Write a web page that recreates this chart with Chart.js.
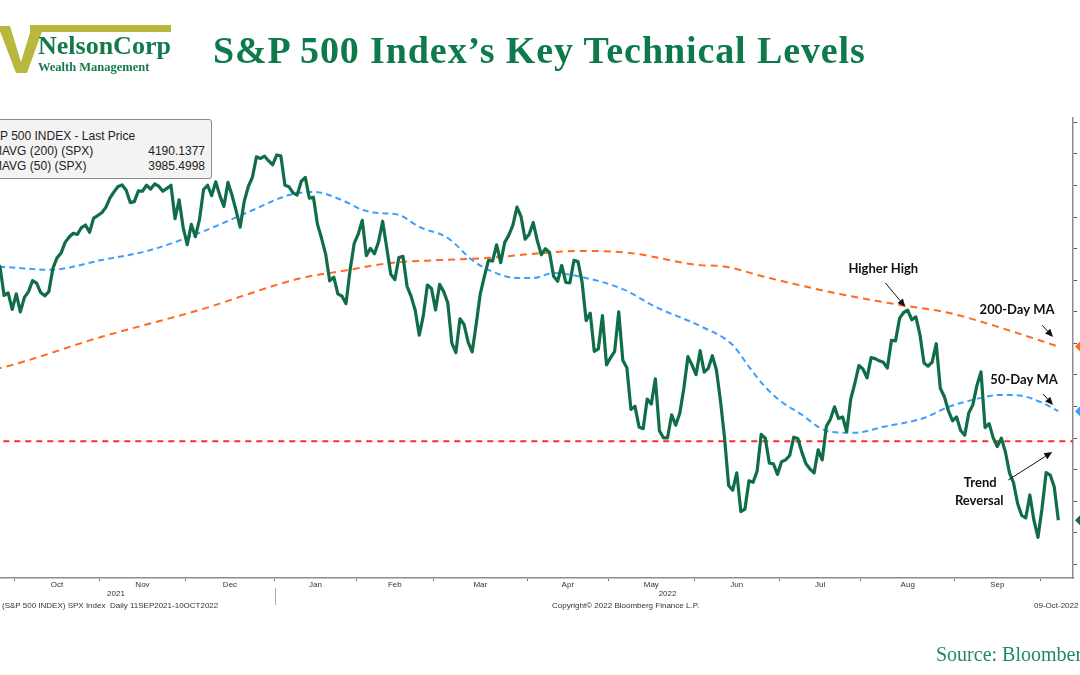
<!DOCTYPE html>
<html>
<head>
<meta charset="utf-8">
<script src="https://cdn.jsdelivr.net/npm/chart.js@4.4.1/dist/chart.umd.min.js"></script>
<style>
html,body{margin:0;padding:0;background:#fff;}
#wrap{position:relative;width:1080px;height:675px;overflow:hidden;background:#fff;}
#c{position:absolute;left:0;top:0;}
.serif{font-family:"Liberation Serif","Times New Roman",serif;font-weight:bold;white-space:nowrap;position:absolute;}
#title{left:213px;top:31px;font-size:38px;line-height:38px;letter-spacing:0.9px;color:#0e7a4c;}
#nc{left:38px;top:33px;font-size:26px;line-height:26px;color:#157a4b;}
#wm{left:38px;top:61px;font-size:12.5px;line-height:13px;color:#157a4b;}
#logo{position:absolute;left:0;top:0;}
#legend{position:absolute;left:-30px;top:119px;width:240px;height:58px;border:1px solid #8a8a8a;border-radius:3px;background:#f3f3f3;font-family:"Liberation Sans",Arial,sans-serif;font-size:12px;color:#222;}
.lr{position:absolute;left:13px;white-space:nowrap;}
.lv{position:absolute;right:6px;white-space:nowrap;}
.small{position:absolute;font-family:"Liberation Sans",Arial,sans-serif;font-size:8px;line-height:9px;color:#333;white-space:nowrap;}
#src{position:absolute;left:936px;top:643px;font-family:"Liberation Serif","Times New Roman",serif;font-size:20px;color:#1f8a5a;white-space:nowrap;}
</style>
</head>
<body>
<div id="wrap">
<canvas id="c" width="1080" height="675"></canvas>
<svg id="logo" width="180" height="80" viewBox="0 0 180 80">
  <rect x="30" y="25" width="141" height="7" fill="#b9b83e"/>
  <polygon points="-2,26 10,26 21,62 32,26 44,26 27,73 16,73" fill="#b9b83e"/>
</svg>
<div id="nc" class="serif">NelsonCorp</div>
<div id="wm" class="serif">Wealth Management</div>
<div id="title" class="serif">S&amp;P 500 Index’s Key Technical Levels</div>
<div id="legend">
  <div class="lr" style="top:9px">S&amp;P 500 INDEX - Last Price</div>
  <div class="lr" style="top:24px">SMAVG (200) (SPX)</div>
  <div class="lv" style="top:24px" id="lv200"></div>
  <div class="lr" style="top:39px">SMAVG (50) (SPX)</div>
  <div class="lv" style="top:39px" id="lv50"></div>
</div>
<div class="small" style="left:2px;top:601px">(S&amp;P 500 INDEX) SPX Index&nbsp; Daily 11SEP2021-10OCT2022</div>
<div class="small" style="left:552px;top:601px">Copyright© 2022 Bloomberg Finance L.P.</div>
<div class="small" style="left:1034px;top:601px">09-Oct-2022</div>
<div id="src">Source: Bloomberg</div>
</div>
<script>
// ---------------- DATA ----------------
// S&P 500 daily closes, trading-day index 0 = 13-Sep-2021 ... 270 = 07-Oct-2022
const price = [
 4469,4443,4481,4474,4433,4358,4355,4396,4449,4455,4443,4352,4360,4308,
 4357,4300,4346,4364,4399,4391,4361,4351,4364,4438,4471,4486,4520,4537,4549,4545,4567,4575,4552,4597,4605,
 4614,4631,4660,4680,4697,4702,4685,4646,4649,4683,4682,4701,4689,4705,4698,4682,4691,4701,4595,4655,4567,
 4513,4577,4538,4592,4687,4701,4668,4712,4669,4634,4710,4669,4621,4568,4650,4697,4726,4791,4786,4793,4778,4766,
 4797,4794,4701,4696,4677,4670,4713,4726,4660,4663,4577,4533,4483,4398,4410,4357,4350,4326,4432,4516,
 4546,4590,4478,4501,4484,4522,4587,4504,4419,4402,4472,4476,4381,4349,4305,4226,4288,4385,4374,
 4306,4387,4364,4329,4201,4171,4278,4260,4204,4173,4262,4358,4412,4463,4461,4512,4456,4520,4543,4575,4632,4602,4530,
 4546,4583,4525,4481,4500,4488,4413,4397,4447,4393,4392,4463,4459,4394,4272,4296,4175,4183,4288,4132,
 4155,4175,4300,4147,4123,3991,4001,3935,3930,4024,4008,4088,3923,3901,3901,3974,3941,3979,4058,4158,4132,
 4101,4177,4109,4121,4161,4116,4018,3901,3750,3735,3790,3667,3675,3765,3760,3796,3912,3900,3821,3819,3785,
 3825,3831,3845,3903,3899,3855,3819,3802,3790,3863,3831,3937,3960,3999,3962,3967,3921,4024,4073,4130,
 4119,4091,4155,4152,4145,4140,4122,4210,4208,4280,4298,4305,4275,4284,4228,4138,4128,4141,4199,4058,4031,3986,3955,
 3967,3924,3909,3980,4006,4067,4110,3933,3946,3901,3873,3900,3856,3790,3758,3693,3655,3647,3720,3640,3586,
 3678,3791,3783,3745,3640
];
// 200-day moving average at these trading-day indices
const ma200Idx = [0,10,35,59,84,94,106,118,130,143,153,165,182,187,199,215,231,243,256,270];
const ma200Val = [4100,4122,4221,4306,4407,4429,4455,4464,4471,4486,4493,4486,4448,4445,4407,4360,4322,4297,4249,4190.14];
// 50-day moving average
const ma50Idx = [0,10,22,35,47,59,71,81,87,94,99,103,108,113,120,126,130,137,141,146,153,163,171,182,190,194,198,202,207,211,214,220,227,237,243,248,256,261,266,270];
const ma50Val = [4440,4442,4433,4464,4496,4550,4616,4670,4680,4654,4623,4613,4607,4569,4534,4464,4433,4407,4407,4423,4410,4372,4316,4255,4195,4126,4062,4015,3974,3936,3920,3917,3936,3964,3999,4018,4037,4034,4012,3985.50];
// horizontal "trend reversal" level
const levelIdx = [0, 280];
const levelVal = [3890, 3890];
// x axis: first session of each month (Oct-2021 .. Oct-2022), month names
const monthStart = [14,35,56,78,98,117,140,160,181,202,222,245,266];
const monthNames = ['Oct','Nov','Dec','Jan','Feb','Mar','Apr','May','Jun','Jul','Aug','Sep'];
const yearLabels = ['2021','2022'];
const yearFirst = [0,78];
const yearLast = [77,270];
// y axis ticks
const yTicks = [3500,3600,3700,3800,3900,4000,4100,4200,4300,4400,4500,4600,4700,4800,4900];
// legend values
const legend200 = '4190.1377';
const legend50 = '3985.4998';
// annotations: anchor (trading-day index, value), pixel offsets for arrow tail and text
const notes = [
  {lines:['Higher High'], idx:232.4, val:4316, tail:[-20,-24], text:[-22,-38]},
  {lines:['200-Day MA'], idx:268.7, val:4220, tail:[-11,-12], text:[-36,-27]},
  {lines:['50-Day MA'], idx:268.7, val:4005, tail:[-10,-11], text:[-29,-25]},
  {lines:['Trend','Reversal'], idx:268.5, val:3856, tail:[-44,28], text:[-72,31]}
];

document.getElementById('lv200').textContent = legend200;
document.getElementById('lv50').textContent = legend50;

const pts = (xs, ys) => xs.map((x,i)=>({x:x, y:ys[i]}));

const overlay = {
  id:'overlay',
  afterDatasetsDraw(chart){
    const ctx = chart.ctx, x = chart.scales.x, y = chart.scales.y;
    ctx.save();
    ctx.fillStyle = '#111'; ctx.strokeStyle = '#111';
    ctx.font = 'bold 13px Lato, "Open Sans", sans-serif';
    ctx.textAlign = 'center'; ctx.textBaseline = 'middle';
    notes.forEach(n=>{
      const hx = x.getPixelForValue(n.idx), hy = y.getPixelForValue(n.val);
      const tx = hx + n.tail[0], ty = hy + n.tail[1];
      const ang = Math.atan2(hy-ty, hx-tx);
      const L = 8, W = 3.5;
      const bx = hx - L*Math.cos(ang), by = hy - L*Math.sin(ang);
      ctx.lineWidth = 1;
      ctx.beginPath(); ctx.moveTo(tx,ty); ctx.lineTo(bx,by); ctx.stroke();
      ctx.beginPath();
      ctx.moveTo(hx,hy);
      ctx.lineTo(bx + W*Math.sin(ang), by - W*Math.cos(ang));
      ctx.lineTo(bx - W*Math.sin(ang), by + W*Math.cos(ang));
      ctx.closePath(); ctx.fill();
      n.lines.forEach((s,k)=>{
        ctx.fillText(s, hx + n.text[0] - (k?1:0), hy + n.text[1] + k*18);
      });
    });
    ctx.restore();
  },
  afterDraw(chart){
    const ctx = chart.ctx, x = chart.scales.x, y = chart.scales.y, a = chart.chartArea;
    ctx.save();
    // month labels
    ctx.font = '8px "Liberation Sans", Arial, sans-serif';
    ctx.fillStyle = '#333'; ctx.textAlign = 'center'; ctx.textBaseline = 'middle';
    monthNames.forEach((m,i)=>{
      const mid = (monthStart[i] + monthStart[i+1]-1)/2;
      ctx.fillText(m, x.getPixelForValue(mid), a.bottom + 7);
    });
    yearLabels.forEach((t,i)=>{
      const mid = (yearFirst[i]+yearLast[i])/2;
      ctx.fillText(t, x.getPixelForValue(mid), a.bottom + 16);
    });
    // year separator
    const sx = Math.round(x.getPixelForValue(yearFirst[1]-0.5)) + 0.5;
    ctx.strokeStyle = '#aaa'; ctx.lineWidth = 1;
    ctx.beginPath(); ctx.moveTo(sx, a.bottom + 10); ctx.lineTo(sx, a.bottom + 27); ctx.stroke();
    // last value tags at right axis
    const tags = [[ma200Val[ma200Val.length-1],'#ff6a1f'],[ma50Val[ma50Val.length-1],'#3d9eff'],[price[price.length-1],'#0f6e47']];
    tags.forEach(([v,c])=>{
      const yy = y.getPixelForValue(v), x0 = a.right + 2;
      ctx.fillStyle = c;
      ctx.beginPath();
      ctx.moveTo(x0, yy); ctx.lineTo(x0+7, yy-7); ctx.lineTo(x0+40, yy-7); ctx.lineTo(x0+40, yy+7); ctx.lineTo(x0+7, yy+7);
      ctx.closePath(); ctx.fill();
    });
    ctx.restore();
  }
};

new Chart(document.getElementById('c'), {
  type:'line',
  data:{datasets:[
    {label:'S&P 500 INDEX - Last Price', data:price.map((v,i)=>({x:i,y:v})), borderColor:'#0f6e47', borderWidth:3.2, pointRadius:0, tension:0, borderJoinStyle:'round'},
    {label:'SMAVG (50)', data:pts(ma50Idx, ma50Val), borderColor:'#3d9eff', borderWidth:2, borderDash:[6,4], pointRadius:0, cubicInterpolationMode:'monotone'},
    {label:'SMAVG (200)', data:pts(ma200Idx, ma200Val), borderColor:'#ff6a1f', borderWidth:2, borderDash:[7,5], pointRadius:0, cubicInterpolationMode:'monotone'},
    {label:'Level', data:pts(levelIdx, levelVal), borderColor:'#ff2b2b', borderWidth:2, borderDash:[6,5], pointRadius:0}
  ]},
  options:{
    responsive:false, animation:false, devicePixelRatio:1,
    layout:{padding:{top:118,left:0,right:0,bottom:0}},
    plugins:{legend:{display:false}, tooltip:{enabled:false}},
    scales:{
      x:{type:'linear', min:10, max:273.6, position:'bottom',
        afterBuildTicks:s=>{ s.ticks = monthStart.map(v=>({value:v-0.5})); },
        afterFit:s=>{ s.height = 97; },
        ticks:{display:false},
        grid:{display:true, drawOnChartArea:false, drawTicks:true, tickLength:3, color:'#777', lineWidth:1},
        border:{display:true, color:'#8c8c8c', width:1.5}
      },
      y:{type:'linear', min:3457, max:4914, position:'right',
        afterBuildTicks:s=>{ s.ticks = yTicks.map(v=>({value:v})); },
        afterFit:s=>{ s.width = 7; },
        ticks:{display:false},
        grid:{display:true, drawOnChartArea:false, drawTicks:true, tickLength:4, color:'#555', lineWidth:1},
        border:{display:true, color:'#8c8c8c', width:1.5}
      }
    }
  },
  plugins:[overlay]
});
</script>
</body>
</html>
